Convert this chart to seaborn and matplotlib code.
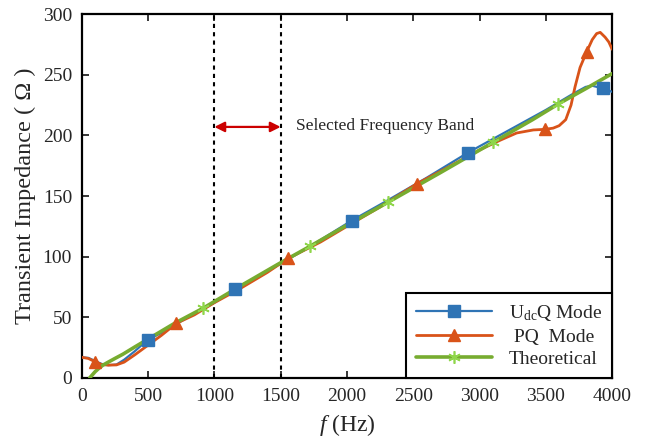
import matplotlib
matplotlib.use("Agg")
import matplotlib.pyplot as plt
from matplotlib.lines import Line2D
import seaborn as sns

# datos
udcq_f = [0, 50, 100, 150, 200, 262, 320, 400, 496, 600, 800, 1000, 1155, 1400, 1700,
          2035, 2300, 2600, 2911, 3200, 3500, 3700, 3800, 3850, 3930, 3970, 4000]
udcq_v = [17, 16.5, 14, 11.5, 10.5, 11, 15, 22, 31.3, 37, 50, 62, 73.4, 88, 107,
          129.7, 146, 165, 185.7, 203, 221, 234, 240, 241, 238.7, 237, 236]
udcq_marks = [496, 1155, 2035, 2911, 3930]

pq_f = [0, 50, 98, 150, 200, 262, 320, 400, 500, 600, 714, 850, 1000, 1200, 1400, 1557,
        1800, 2000, 2250, 2525, 2750, 3000, 3155, 3280, 3405, 3494, 3555, 3600, 3650,
        3690, 3720, 3758, 3808, 3850, 3883, 3910, 3947, 3975, 4000]
pq_v = [17, 16, 13.4, 11, 10.5, 10.7, 13, 19, 27, 35, 45, 52, 62, 74, 87, 98.6,
        112, 125, 141, 160, 173, 188, 196, 202, 204.5, 205, 206, 208, 213,
        225, 240, 256, 269, 279, 284, 285, 281, 277, 271]
pq_marks = [98, 714, 1557, 2525, 3494, 3808]

th_f = [60, 80, 100, 130, 160, 200, 250, 310, 400, 500, 700, 916, 1200, 1500, 1721,
        2000, 2312, 2700, 3105, 3400, 3595, 3800, 4000]
th_v = [0, 2.5, 5, 8, 10.5, 13, 16, 19.5, 25.5, 32, 45, 57.5, 76, 95, 108.5,
        126, 145, 169, 194.5, 213, 226, 238.5, 251]
th_marks = [916, 1721, 2312, 3105, 3595]

band = [1000, 1500]

c_blue = "#2f74b5"
c_orange = "#d95319"
c_green = "#77ac30"
c_star = "#8fd64a"
asterisk = (6, 2, 0)

sns.set_style("ticks")
plt.rcParams["font.family"] = ["Liberation Serif", "DejaVu Serif"]
plt.rcParams["mathtext.fontset"] = "custom"
plt.rcParams["mathtext.rm"] = "Liberation Serif"
plt.rcParams["mathtext.it"] = "Liberation Serif:italic"

fig = plt.figure(figsize=(6.54, 4.43), dpi=100)
ax = fig.add_axes([0.125, 0.147, 0.811, 0.821])

# lineas
sns.lineplot(x=udcq_f, y=udcq_v, color=c_blue, lw=1.6, ax=ax, zorder=3)
sns.lineplot(x=pq_f, y=pq_v, color=c_orange, lw=2.0, ax=ax, zorder=3)
sns.lineplot(x=th_f, y=th_v, color=c_green, lw=2.6, ax=ax, zorder=4)

# marcadores encima
idx = [udcq_f.index(m) for m in udcq_marks]
ax.plot([udcq_f[i] for i in idx], [udcq_v[i] for i in idx], ls="none", marker="s",
        ms=8, color=c_blue, mec=c_blue, zorder=5)
idx = [pq_f.index(m) for m in pq_marks]
ax.plot([pq_f[i] for i in idx], [pq_v[i] for i in idx], ls="none", marker="^",
        ms=9, color=c_orange, mec=c_orange, zorder=5)
idx = [th_f.index(m) for m in th_marks]
ax.plot([th_f[i] for i in idx], [th_v[i] for i in idx], ls="none", marker=asterisk,
        ms=9, mew=1.2, color=c_star, zorder=5)

# banda seleccionada
for b in band:
    ax.axvline(b, color="k", ls=(0, (2, 2)), lw=1.5, zorder=2)
ax.annotate("", xy=(band[0], 207), xytext=(band[1], 207),
            arrowprops=dict(arrowstyle="<|-|>", color="#cc0000", lw=1.6,
                            mutation_scale=15, shrinkA=0, shrinkB=0))
ax.text(1615, 208, "Selected Frequency Band", fontsize=12.5, va="center", ha="left")

ax.set_xlim(0, 4000)
ax.set_ylim(0, 300)
ax.set_xticks(range(0, 4001, 500))
ax.set_yticks(range(0, 301, 50))
ax.tick_params(direction="in", top=True, right=True, length=5, width=1.3,
               labelsize=14, pad=7)
for s in ax.spines.values():
    s.set_linewidth(1.6)
    s.set_color("k")

ax.set_xlabel("$\\mathit{f}$ (Hz)", fontsize=17, labelpad=5)
ax.set_ylabel("Transient Impedance ( \u03a9 )", fontsize=17.5, labelpad=5)

handles = [
    Line2D([], [], color=c_blue, lw=1.6, marker="s", ms=8),
    Line2D([], [], color=c_orange, lw=2.0, marker="^", ms=9),
    Line2D([], [], color=c_green, lw=2.6, marker=asterisk, ms=9, mew=1.2, mec=c_star),
]
labels = ["U$_{\\rm dc}$Q Mode", " PQ  Mode", "Theoretical"]
leg = ax.legend(handles, labels, loc="lower right", fontsize=14, handlelength=3.9,
                borderaxespad=0, fancybox=False, framealpha=1, edgecolor="k",
                labelspacing=0.25, borderpad=0.5, handletextpad=0.9)
leg.get_frame().set_linewidth(1.5)

fig.savefig("out.png", dpi=100)
